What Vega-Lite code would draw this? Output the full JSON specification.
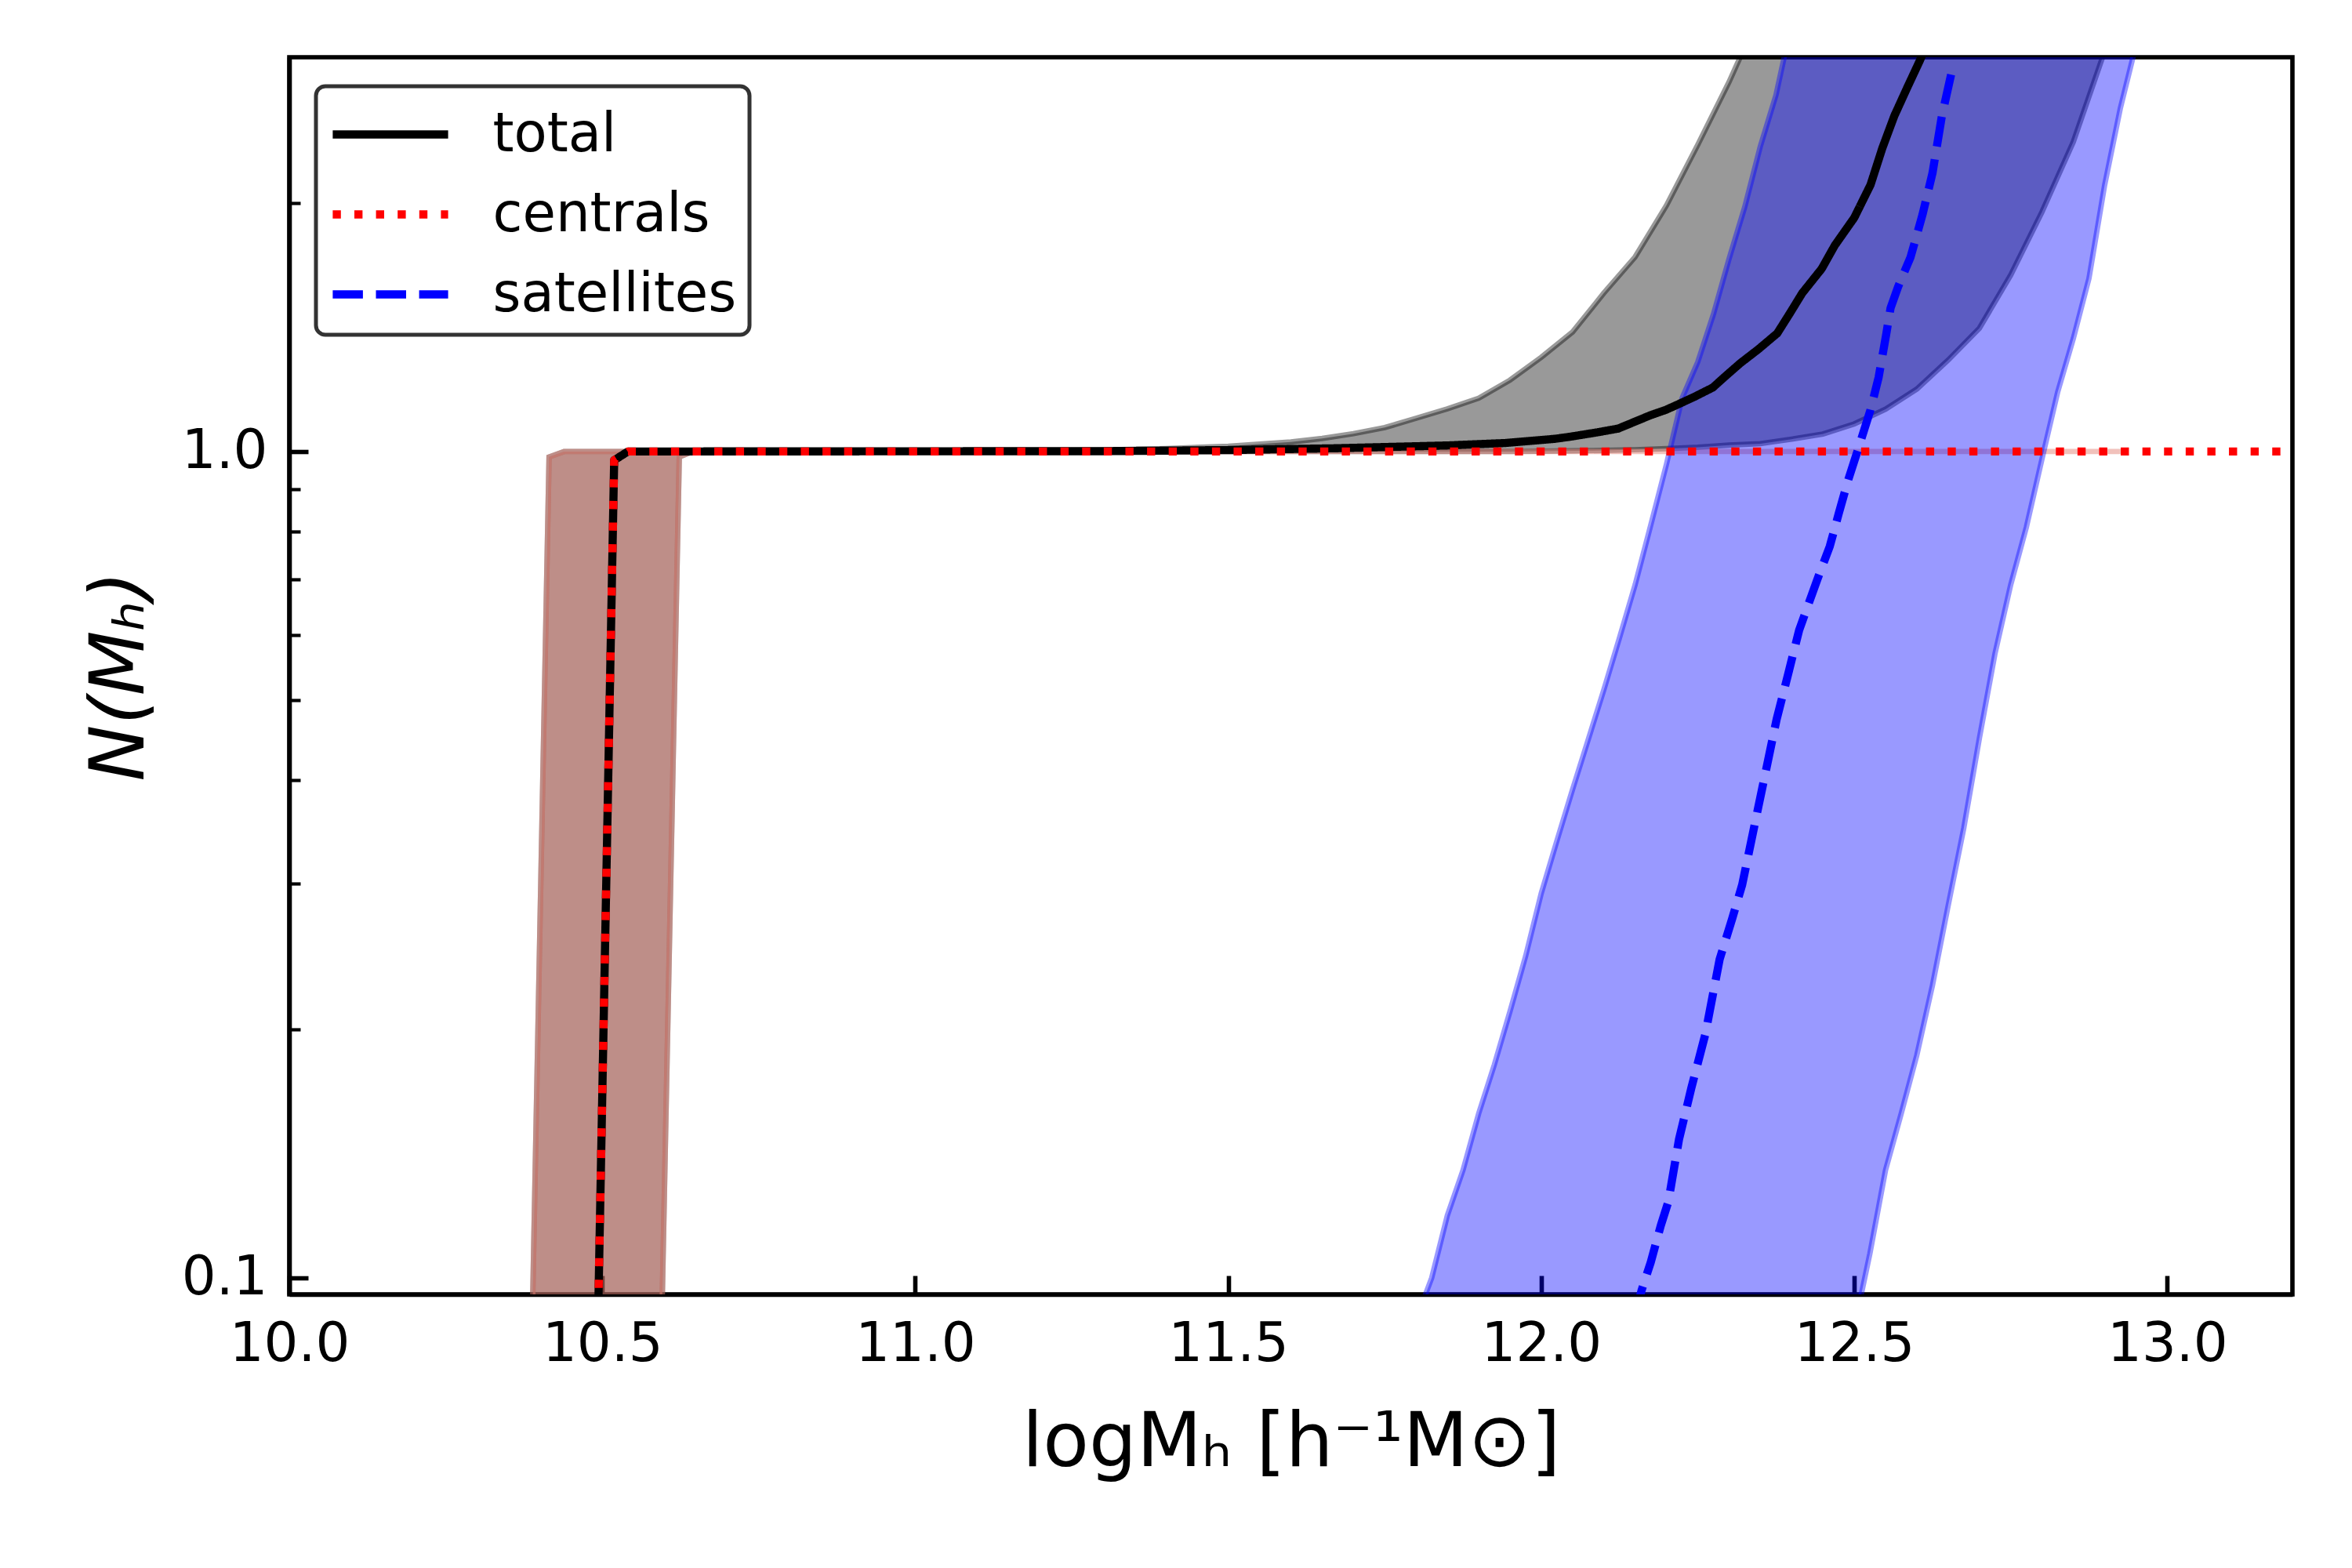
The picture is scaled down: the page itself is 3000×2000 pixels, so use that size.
{
  "$schema": "https://vega.github.io/schema/vega-lite/v6.json",
  "autosize": {"type": "none"},
  "padding": {"left": 369, "top": 73, "right": 76, "bottom": 349},
  "width": 2555,
  "height": 1578,
  "background": "white",
  "datasets": {
    "tot_band": [
      {"x": 10.0, "lo": 0.0111, "hi": 0.0111},
      {"x": 10.365, "lo": 0.0111, "hi": 0.0111},
      {"x": 10.415, "lo": 0.0111, "hi": 0.985},
      {"x": 10.439, "lo": 0.0111, "hi": 1.0},
      {"x": 10.571, "lo": 0.0111, "hi": 1.0},
      {"x": 10.623, "lo": 0.985, "hi": 1.0},
      {"x": 10.645, "lo": 1.0, "hi": 1.0},
      {"x": 11.0, "lo": 1.0, "hi": 1.0005},
      {"x": 11.2, "lo": 1.0, "hi": 1.002},
      {"x": 11.3, "lo": 1.0, "hi": 1.004},
      {"x": 11.4, "lo": 1.0, "hi": 1.008},
      {"x": 11.5, "lo": 1.0, "hi": 1.015},
      {"x": 11.6, "lo": 1.0, "hi": 1.027},
      {"x": 11.65, "lo": 1.0, "hi": 1.037},
      {"x": 11.7, "lo": 1.0, "hi": 1.051},
      {"x": 11.75, "lo": 1.0, "hi": 1.069},
      {"x": 11.8, "lo": 1.0, "hi": 1.097},
      {"x": 11.85, "lo": 1.0, "hi": 1.126},
      {"x": 11.9, "lo": 1.0, "hi": 1.16},
      {"x": 11.95, "lo": 1.0, "hi": 1.22},
      {"x": 12.0, "lo": 1.001, "hi": 1.3},
      {"x": 12.05, "lo": 1.002, "hi": 1.395},
      {"x": 12.1, "lo": 1.003, "hi": 1.555},
      {"x": 12.15, "lo": 1.005, "hi": 1.72},
      {"x": 12.2, "lo": 1.008, "hi": 1.985},
      {"x": 12.25, "lo": 1.012, "hi": 2.35},
      {"x": 12.3, "lo": 1.018, "hi": 2.8},
      {"x": 12.35, "lo": 1.022, "hi": 3.4},
      {"x": 12.4, "lo": 1.035, "hi": 4.0},
      {"x": 12.45, "lo": 1.05, "hi": 4.8},
      {"x": 12.5, "lo": 1.08, "hi": 5.6},
      {"x": 12.55, "lo": 1.125, "hi": 6.5},
      {"x": 12.6, "lo": 1.19, "hi": 7.5},
      {"x": 12.65, "lo": 1.29, "hi": 8.5},
      {"x": 12.7, "lo": 1.41, "hi": 10},
      {"x": 12.75, "lo": 1.635, "hi": 11},
      {"x": 12.8, "lo": 1.95, "hi": 12},
      {"x": 12.85, "lo": 2.37, "hi": 13},
      {"x": 12.9, "lo": 3.05, "hi": 14},
      {"x": 12.93, "lo": 3.5, "hi": 15}
    ],
    "cen_band": [
      {"x": 10.0, "lo": 0.0111, "hi": 0.0111},
      {"x": 10.365, "lo": 0.0111, "hi": 0.0111},
      {"x": 10.415, "lo": 0.0111, "hi": 0.985},
      {"x": 10.439, "lo": 0.0111, "hi": 1.0},
      {"x": 10.571, "lo": 0.0111, "hi": 1.0},
      {"x": 10.623, "lo": 0.985, "hi": 1.0},
      {"x": 10.645, "lo": 1.0, "hi": 1.0},
      {"x": 12.934, "lo": 1.0, "hi": 1.0}
    ],
    "sat_band": [
      {"x": 11.775, "lo": 0.01, "hi": 0.078},
      {"x": 11.8, "lo": 0.01, "hi": 0.089},
      {"x": 11.825, "lo": 0.01, "hi": 0.1},
      {"x": 11.85, "lo": 0.01, "hi": 0.119},
      {"x": 11.875, "lo": 0.01, "hi": 0.135},
      {"x": 11.9, "lo": 0.01, "hi": 0.158},
      {"x": 11.925, "lo": 0.01, "hi": 0.181},
      {"x": 11.95, "lo": 0.01, "hi": 0.21},
      {"x": 11.975, "lo": 0.01, "hi": 0.245},
      {"x": 12.0, "lo": 0.01, "hi": 0.292},
      {"x": 12.025, "lo": 0.01, "hi": 0.338},
      {"x": 12.05, "lo": 0.01, "hi": 0.39},
      {"x": 12.075, "lo": 0.01, "hi": 0.448},
      {"x": 12.1, "lo": 0.01, "hi": 0.515},
      {"x": 12.125, "lo": 0.01, "hi": 0.595},
      {"x": 12.15, "lo": 0.01, "hi": 0.69},
      {"x": 12.175, "lo": 0.01, "hi": 0.815},
      {"x": 12.2, "lo": 0.01, "hi": 0.965},
      {"x": 12.225, "lo": 0.01, "hi": 1.16},
      {"x": 12.25, "lo": 0.01, "hi": 1.283},
      {"x": 12.275, "lo": 0.01, "hi": 1.465},
      {"x": 12.3, "lo": 0.01, "hi": 1.71},
      {"x": 12.325, "lo": 0.01, "hi": 1.975},
      {"x": 12.35, "lo": 0.01, "hi": 2.34},
      {"x": 12.375, "lo": 0.01, "hi": 2.7},
      {"x": 12.4, "lo": 0.036, "hi": 3.3},
      {"x": 12.425, "lo": 0.045, "hi": 3.9},
      {"x": 12.45, "lo": 0.056, "hi": 4.6},
      {"x": 12.475, "lo": 0.07, "hi": 5.4},
      {"x": 12.5, "lo": 0.087, "hi": 6.3},
      {"x": 12.525, "lo": 0.107, "hi": 7.3},
      {"x": 12.55, "lo": 0.135, "hi": 8.5},
      {"x": 12.575, "lo": 0.158, "hi": 10},
      {"x": 12.6, "lo": 0.186, "hi": 12},
      {"x": 12.625, "lo": 0.226, "hi": 14},
      {"x": 12.65, "lo": 0.282, "hi": 16},
      {"x": 12.675, "lo": 0.35, "hi": 19},
      {"x": 12.7, "lo": 0.45, "hi": 22},
      {"x": 12.725, "lo": 0.57, "hi": 26},
      {"x": 12.75, "lo": 0.69, "hi": 30},
      {"x": 12.775, "lo": 0.81, "hi": 35},
      {"x": 12.8, "lo": 0.98, "hi": 40},
      {"x": 12.825, "lo": 1.18, "hi": 46},
      {"x": 12.85, "lo": 1.37, "hi": 52},
      {"x": 12.875, "lo": 1.62, "hi": 60},
      {"x": 12.9, "lo": 2.1, "hi": 70},
      {"x": 12.925, "lo": 2.6, "hi": 80},
      {"x": 12.95, "lo": 3.1, "hi": 90},
      {"x": 12.975, "lo": 3.8, "hi": 100}
    ],
    "lines": [
      {"series": "total", "x": 10.0, "y": 0.0102},
      {"series": "total", "x": 10.47, "y": 0.0102},
      {"series": "total", "x": 10.519, "y": 0.976},
      {"series": "total", "x": 10.541, "y": 1.0},
      {"series": "total", "x": 11.3, "y": 1.001},
      {"series": "total", "x": 11.5, "y": 1.004},
      {"series": "total", "x": 11.67, "y": 1.009},
      {"series": "total", "x": 11.85, "y": 1.017},
      {"series": "total", "x": 11.943, "y": 1.024},
      {"series": "total", "x": 12.022, "y": 1.036},
      {"series": "total", "x": 12.046, "y": 1.042},
      {"series": "total", "x": 12.09, "y": 1.055},
      {"series": "total", "x": 12.123, "y": 1.066},
      {"series": "total", "x": 12.174, "y": 1.106},
      {"series": "total", "x": 12.199, "y": 1.123},
      {"series": "total", "x": 12.216, "y": 1.138},
      {"series": "total", "x": 12.245, "y": 1.165},
      {"series": "total", "x": 12.274, "y": 1.195},
      {"series": "total", "x": 12.295, "y": 1.235},
      {"series": "total", "x": 12.318, "y": 1.279},
      {"series": "total", "x": 12.347, "y": 1.33},
      {"series": "total", "x": 12.377, "y": 1.39},
      {"series": "total", "x": 12.397, "y": 1.469},
      {"series": "total", "x": 12.417, "y": 1.555},
      {"series": "total", "x": 12.448, "y": 1.664},
      {"series": "total", "x": 12.469, "y": 1.776},
      {"series": "total", "x": 12.5, "y": 1.918},
      {"series": "total", "x": 12.526, "y": 2.102},
      {"series": "total", "x": 12.545, "y": 2.33},
      {"series": "total", "x": 12.564, "y": 2.547},
      {"series": "total", "x": 12.585, "y": 2.76},
      {"series": "total", "x": 12.605, "y": 2.974},
      {"series": "total", "x": 12.63, "y": 3.3},
      {"series": "centrals", "x": 10.0, "y": 0.0102},
      {"series": "centrals", "x": 10.47, "y": 0.0102},
      {"series": "centrals", "x": 10.519, "y": 0.976},
      {"series": "centrals", "x": 10.541, "y": 1.0},
      {"series": "centrals", "x": 13.3, "y": 1.0},
      {"series": "satellites", "x": 12.15, "y": 0.09},
      {"series": "satellites", "x": 12.16, "y": 0.0964},
      {"series": "satellites", "x": 12.175, "y": 0.1045},
      {"series": "satellites", "x": 12.191, "y": 0.1157},
      {"series": "satellites", "x": 12.203, "y": 0.1236},
      {"series": "satellites", "x": 12.22, "y": 0.147},
      {"series": "satellites", "x": 12.24, "y": 0.17},
      {"series": "satellites", "x": 12.262, "y": 0.197},
      {"series": "satellites", "x": 12.285, "y": 0.243},
      {"series": "satellites", "x": 12.305, "y": 0.272},
      {"series": "satellites", "x": 12.321, "y": 0.299},
      {"series": "satellites", "x": 12.346, "y": 0.369},
      {"series": "satellites", "x": 12.376, "y": 0.474},
      {"series": "satellites", "x": 12.395, "y": 0.54},
      {"series": "satellites", "x": 12.412, "y": 0.608},
      {"series": "satellites", "x": 12.441, "y": 0.7},
      {"series": "satellites", "x": 12.461, "y": 0.768},
      {"series": "satellites", "x": 12.475, "y": 0.84},
      {"series": "satellites", "x": 12.49, "y": 0.922},
      {"series": "satellites", "x": 12.505, "y": 1.0},
      {"series": "satellites", "x": 12.526, "y": 1.123},
      {"series": "satellites", "x": 12.539, "y": 1.23},
      {"series": "satellites", "x": 12.551, "y": 1.385},
      {"series": "satellites", "x": 12.558, "y": 1.491},
      {"series": "satellites", "x": 12.57, "y": 1.582},
      {"series": "satellites", "x": 12.59, "y": 1.719},
      {"series": "satellites", "x": 12.609, "y": 1.934},
      {"series": "satellites", "x": 12.625, "y": 2.172},
      {"series": "satellites", "x": 12.64, "y": 2.547},
      {"series": "satellites", "x": 12.657, "y": 2.91}
    ]
  },
  "layer": [
    {
      "data": {"name": "tot_band"},
      "mark": {"type": "area", "clip": true, "fill": "#000000", "fillOpacity": 0.4, "stroke": "#000000", "strokeOpacity": 0.4, "strokeWidth": 6.9},
      "encoding": {
        "x": {"field": "x", "type": "quantitative", "scale": {"domain": [10, 13.2], "nice": false, "zero": false},
          "title": "logMₕ [h⁻¹M⊙]",
          "axis": {"values": [10, 10.5, 11, 11.5, 12, 12.5, 13], "format": ".1f"}},
        "y": {"field": "lo", "type": "quantitative", "scale": {"type": "log", "domain": [0.0955, 3.0], "nice": false},
          "title": "N(Mₕ)",
          "axis": {"values": [0.1, 0.2, 0.3, 0.4, 0.5, 0.6, 0.7, 0.8, 0.9, 1, 2],
            "labelExpr": "datum.value === 1 ? '1.0' : (datum.value === 0.1 ? '0.1' : '')",
            "tickSize": {"condition": {"test": "datum.value === 1 || datum.value === 0.1", "value": -24}, "value": -14},
            "tickWidth": {"condition": {"test": "datum.value === 1 || datum.value === 0.1", "value": 5.6}, "value": 4.2}}},
        "y2": {"field": "hi"}
      }
    },
    {
      "data": {"name": "cen_band"},
      "mark": {"type": "area", "clip": true, "fill": "#e38377", "fillOpacity": 0.5, "stroke": "#e38377", "strokeOpacity": 0.5, "strokeWidth": 6.9},
      "encoding": {
        "x": {"field": "x", "type": "quantitative", "title": "logMₕ [h⁻¹M⊙]"},
        "y": {"field": "lo", "type": "quantitative", "title": "N(Mₕ)"},
        "y2": {"field": "hi"}
      }
    },
    {
      "data": {"name": "sat_band"},
      "mark": {"type": "area", "clip": true, "fill": "#0000ff", "fillOpacity": 0.4, "stroke": "#0000ff", "strokeOpacity": 0.4, "strokeWidth": 6.9},
      "encoding": {
        "x": {"field": "x", "type": "quantitative", "title": "logMₕ [h⁻¹M⊙]"},
        "y": {"field": "lo", "type": "quantitative", "title": "N(Mₕ)"},
        "y2": {"field": "hi"}
      }
    },
    {
      "data": {"name": "lines"},
      "transform": [{"filter": "datum.series === 'total'"}],
      "mark": {"type": "line", "clip": true, "strokeWidth": 10.4, "strokeCap": "butt", "strokeJoin": "round"},
      "encoding": {
        "x": {"field": "x", "type": "quantitative", "title": "logMₕ [h⁻¹M⊙]"},
        "y": {"field": "y", "type": "quantitative", "title": "N(Mₕ)"},
        "color": {"field": "series", "type": "nominal", "title": null,
          "scale": {"domain": ["total", "centrals", "satellites"], "range": ["#000000", "#ff0000", "#0000ff"]},
          "legend": {"symbolType": "M-1.84,0H1.84", "title": null}},
        "strokeDash": {"field": "series", "type": "nominal", "title": null,
          "scale": {"domain": ["total", "centrals", "satellites"], "range": [[1, 0], [10.4, 17.2], [38.5, 16.6]]},
          "legend": {"symbolType": "M-1.84,0H1.84", "title": null}}
      }
    },
    {
      "data": {"name": "lines"},
      "transform": [{"filter": "datum.series === 'centrals'"}],
      "mark": {"type": "line", "clip": true, "strokeWidth": 10.4, "strokeCap": "butt", "strokeJoin": "round"},
      "encoding": {
        "x": {"field": "x", "type": "quantitative", "title": "logMₕ [h⁻¹M⊙]"},
        "y": {"field": "y", "type": "quantitative", "title": "N(Mₕ)"},
        "color": {"field": "series", "type": "nominal", "title": null},
        "strokeDash": {"field": "series", "type": "nominal", "title": null}
      }
    },
    {
      "data": {"name": "lines"},
      "transform": [{"filter": "datum.series === 'satellites'"}],
      "mark": {"type": "line", "clip": true, "strokeWidth": 10.4, "strokeCap": "butt", "strokeJoin": "round"},
      "encoding": {
        "x": {"field": "x", "type": "quantitative", "title": "logMₕ [h⁻¹M⊙]"},
        "y": {"field": "y", "type": "quantitative", "title": "N(Mₕ)"},
        "color": {"field": "series", "type": "nominal", "title": null},
        "strokeDash": {"field": "series", "type": "nominal", "title": null}
      }
    }
  ],
  "config": {
    "font": "DejaVu Sans",
    "view": {"stroke": "#000000", "strokeWidth": 5.6},
    "axis": {
      "zindex": 1,
      "grid": false,
      "domain": true,
      "domainColor": "#000000",
      "domainWidth": 5.6,
      "tickColor": "#000000",
      "tickWidth": 5.6,
      "tickSize": -24,
      "labelFont": "DejaVu Sans",
      "labelFontSize": 69,
      "labelColor": "#000000",
      "titleFont": "DejaVu Sans",
      "titleFontSize": 96,
      "titleFontWeight": "normal",
      "titleColor": "#000000",
      "labelFlush": false,
      "labelOverlap": false
    },
    "axisX": {"labelPadding": 53, "titlePadding": 120, "titleBaseline": "alphabetic"},
    "axisY": {"labelPadding": 52, "titlePadding": 49, "titleBaseline": "alphabetic", "titleFontStyle": "italic"},
    "legend": {
      "orient": "none",
      "legendX": 34,
      "legendY": 37,
      "strokeColor": "#333333",
      "strokeWidth": 5,
      "fillColor": "#ffffff",
      "cornerRadius": 12,
      "padding": 16,
      "symbolSize": 6400,
      "symbolStrokeWidth": 10.4,
      "symbolOffset": 33.5,
      "labelOffset": 85,
      "labelLimit": 0,
      "labelFont": "DejaVu Sans",
      "labelFontSize": 69,
      "labelColor": "#000000",
      "rowPadding": 21
    }
  }
}
